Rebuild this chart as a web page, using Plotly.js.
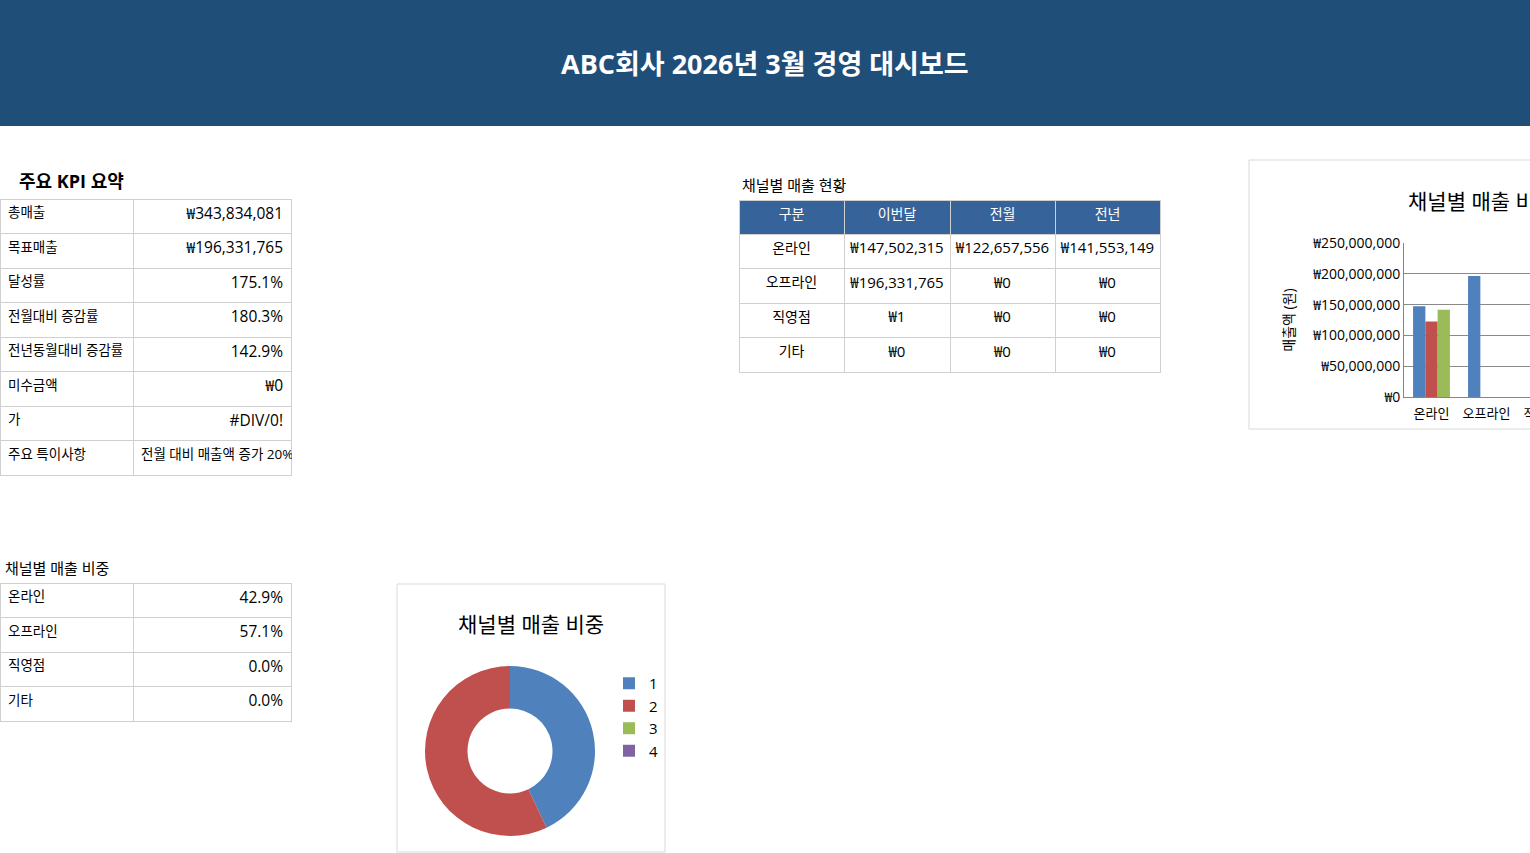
<!DOCTYPE html>
<html>
<head>
<meta charset="utf-8">
<script src="https://cdn.plot.ly/plotly-3.0.1.min.js"></script>
<style>
html, body { margin: 0; padding: 0; overflow: hidden; background: #fff; }
#wrap { width: 1530px; height: 853px; overflow: hidden; position: relative; }
#chart { width: 1700px; height: 853px; }
</style>
</head>
<body>
<div id="wrap"><div id="chart"></div></div>
<script>
// ---- data ----
const pageTitle = 'ABC회사 2026년 3월 경영 대시보드';
const kpiTitle = '주요 KPI 요약';
const kpiLabels = ['총매출', '목표매출', '달성률', '전월대비 증감률', '전년동월대비 증감률', '미수금액', '가', '주요 특이사항'];
const kpiValues = ['₩343,834,081', '₩196,331,765', '175.1%', '180.3%', '142.9%', '₩0', '#DIV/0!', '전월 대비 매출액 증가 20% 이상'];

const salesTableTitle = '채널별 매출 현황';
const salesHeaders = ['구분', '이번달', '전월', '전년'];
const channels = ['온라인', '오프라인', '직영점', '기타'];
const thisMonth = [147502315, 196331765, 1, 0];
const lastMonth = [122657556, 0, 0, 0];
const lastYear = [141553149, 0, 0, 0];

const shareTitle = '채널별 매출 비중';
const sharePct = ['42.9%', '57.1%', '0.0%', '0.0%'];

const barTitle = '채널별 매출 비교';
const barYTitle = '매출액 (원)';
const donutTitle = '채널별 매출 비중';
const donutLabels = ['1', '2', '3', '4'];

const seriesColors = ['#4F81BD', '#C0504D', '#9BBB59', '#8064A2'];

// ---- geometry helpers ----
const W = 1700, H = 853;
const X = p => p / W;
const Y = p => 1 - p / H;
const FONT = 'Open Sans, Noto Sans CJK KR, sans-serif';
const won = v => '₩' + v.toLocaleString('en-US');
const nb = s => s.replace(/ /g, '\u00a0');

const cellLine = {color: '#d0d0d0', width: 1};
const twoColFont = {family: FONT, size: [13.5, 15.5], color: '#000'};

// KPI table (first row used as header, styled like the rest)
const kpiL = kpiLabels.map(nb), kpiV = kpiValues.map(nb);
const kpiTable = {
  type: 'table',
  domain: {x: [X(0), X(291)], y: [Y(478), Y(199)]},
  columnwidth: [133, 158],
  header: {
    values: [kpiL[0], kpiV[0]],
    align: ['left', 'right'],
    height: 34.5,
    fill: {color: '#ffffff'},
    line: cellLine,
    font: twoColFont
  },
  cells: {
    values: [kpiL.slice(1), kpiV.slice(1)],
    align: [kpiL.slice(1).map(() => 'left'), kpiV.slice(1).map((v, i, a) => i === a.length - 1 ? 'left' : 'right')],
    height: 34.5,
    fill: {color: '#ffffff'},
    line: cellLine,
    font: {family: FONT, size: [13.5, kpiV.slice(1).map((v, i, a) => i === a.length - 1 ? 13.5 : 15.5)], color: '#000'}
  }
};

// Sales table
const salesTable = {
  type: 'table',
  domain: {x: [X(739), X(1160)], y: [Y(376), Y(200)]},
  columnwidth: [105, 106, 105, 105],
  header: {
    values: salesHeaders,
    align: 'center',
    height: 34,
    fill: {color: '#36639A'},
    line: cellLine,
    font: {family: FONT, size: 14, color: '#ffffff'}
  },
  cells: {
    values: [channels, thisMonth.map(won), lastMonth.map(won), lastYear.map(won)],
    align: 'center',
    height: 34.5,
    fill: {color: '#ffffff'},
    line: cellLine,
    font: {family: FONT, size: [14, 15, 15, 15], color: '#000'}
  }
};

// Share table
const shareTable = {
  type: 'table',
  domain: {x: [X(0), X(291)], y: [Y(724), Y(583)]},
  columnwidth: [133, 158],
  header: {
    values: [channels[0], sharePct[0]],
    align: ['left', 'right'],
    height: 34.5,
    fill: {color: '#ffffff'},
    line: cellLine,
    font: twoColFont
  },
  cells: {
    values: [channels.slice(1), sharePct.slice(1)],
    align: ['left', 'right'],
    height: 34.5,
    fill: {color: '#ffffff'},
    line: cellLine,
    font: twoColFont
  }
};

// Bar chart
const barSeries = [
  {name: salesHeaders[1], y: thisMonth, color: seriesColors[0]},
  {name: salesHeaders[2], y: lastMonth, color: seriesColors[1]},
  {name: salesHeaders[3], y: lastYear, color: seriesColors[2]}
].map(s => ({
  type: 'bar', x: channels, y: s.y, name: s.name,
  marker: {color: s.color}, showlegend: false,
  xaxis: 'x', yaxis: 'y'
}));

// Donut
const donut = {
  type: 'pie',
  labels: donutLabels,
  values: thisMonth,
  hole: 0.5,
  sort: false,
  direction: 'clockwise',
  rotation: 0,
  textinfo: 'none',
  marker: {colors: seriesColors, line: {width: 0}},
  domain: {x: [X(425), X(595)], y: [Y(836), Y(666)]},
  showlegend: true
};

const layout = {
  width: W, height: H,
  margin: {l: 0, r: 0, t: 0, b: 0},
  paper_bgcolor: '#ffffff',
  plot_bgcolor: 'rgba(0,0,0,0)',
  font: {family: FONT, color: '#000'},
  barmode: 'group',
  bargap: 0.33,
  bargroupgap: 0,
  xaxis: {
    domain: [X(1404), X(1624)],
    anchor: 'y',
    type: 'category',
    showgrid: false,
    showline: true, linecolor: '#868686', linewidth: 1,
    ticks: '',
    ticklabelstandoff: 4,
    tickfont: {family: FONT, size: 13, color: '#000'},
    fixedrange: true
  },
  yaxis: {
    domain: [Y(397), Y(243)],
    anchor: 'x',
    range: [0, 250000000],
    dtick: 50000000,
    tickprefix: '₩',
    tickformat: ',d',
    showgrid: true, gridcolor: '#8a8a8a', gridwidth: 1,
    showline: true, linecolor: '#868686', linewidth: 1,
    zeroline: false,
    ticks: '',
    tickfont: {family: FONT, size: 14, color: '#000'},
    title: {text: barYTitle, font: {family: FONT, size: 14, color: '#000'}, standoff: 14},
    fixedrange: true
  },
  legend: {
    x: X(609), y: Y(667), xanchor: 'left', yanchor: 'top',
    font: {family: FONT, size: 15, color: '#000'},
    bgcolor: 'rgba(0,0,0,0)',
    itemclick: false, itemdoubleclick: false,
    itemwidth: 30,
    tracegroupgap: 0
  },
  shapes: [
    {type: 'rect', xref: 'paper', yref: 'paper', x0: X(0), x1: X(W), y0: Y(126), y1: Y(0),
     fillcolor: '#1F4E79', line: {width: 0}, layer: 'below'},
    {type: 'rect', xref: 'paper', yref: 'paper', x0: X(1249), x1: X(1720), y0: Y(429), y1: Y(160),
     fillcolor: 'rgba(0,0,0,0)', line: {color: '#d9d9d9', width: 1}, layer: 'below'},
    {type: 'rect', xref: 'paper', yref: 'paper', x0: X(397), x1: X(665), y0: Y(852), y1: Y(584),
     fillcolor: 'rgba(0,0,0,0)', line: {color: '#d9d9d9', width: 1}, layer: 'below'}
  ],
  annotations: [
    {text: '<b>' + pageTitle + '</b>', xref: 'paper', yref: 'paper', x: X(765), y: Y(63),
     xanchor: 'center', yanchor: 'middle', showarrow: false,
     font: {family: FONT, size: 27, color: '#ffffff'}},
    {text: '<b>' + kpiTitle + '</b>', xref: 'paper', yref: 'paper', x: X(17), y: Y(181),
     xanchor: 'left', yanchor: 'middle', showarrow: false,
     font: {family: FONT, size: 18, color: '#000'}},
    {text: salesTableTitle, xref: 'paper', yref: 'paper', x: X(740), y: Y(185),
     xanchor: 'left', yanchor: 'middle', showarrow: false,
     font: {family: FONT, size: 15, color: '#000'}},
    {text: shareTitle, xref: 'paper', yref: 'paper', x: X(3), y: Y(568),
     xanchor: 'left', yanchor: 'middle', showarrow: false,
     font: {family: FONT, size: 15, color: '#000'}},
    {text: barTitle, xref: 'paper', yref: 'paper', x: X(1406), y: Y(201),
     xanchor: 'left', yanchor: 'middle', showarrow: false,
     font: {family: FONT, size: 21, color: '#000'}},
    {text: donutTitle, xref: 'paper', yref: 'paper', x: X(531), y: Y(624),
     xanchor: 'center', yanchor: 'middle', showarrow: false,
     font: {family: FONT, size: 21, color: '#000'}}
  ]
};

Plotly.newPlot('chart', [kpiTable, salesTable, shareTable, ...barSeries, donut], layout, {staticPlot: true, displayModeBar: false});
</script>
</body>
</html>
